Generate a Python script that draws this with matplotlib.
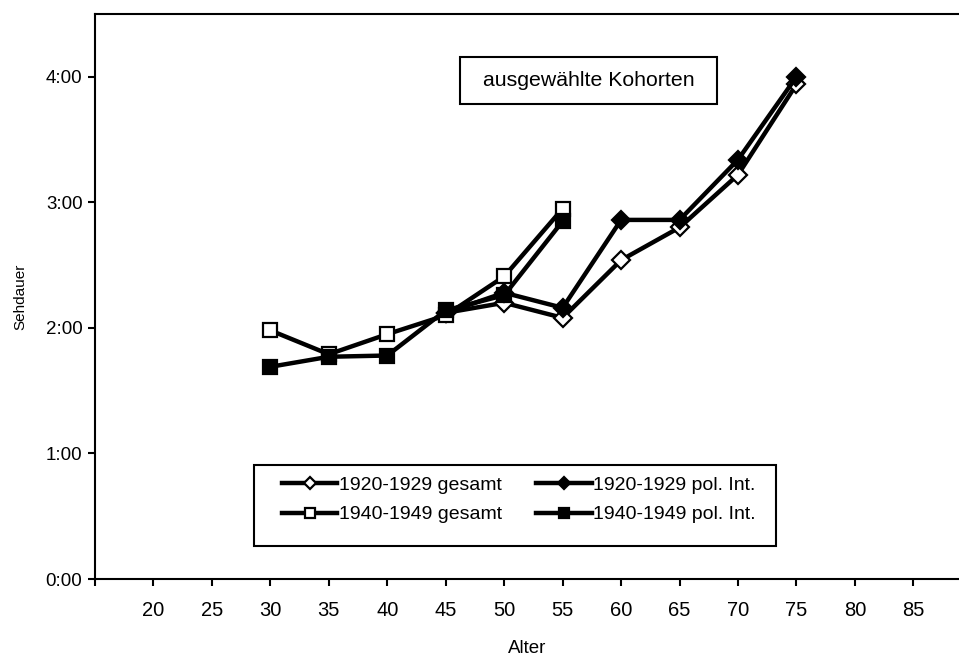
import matplotlib
matplotlib.use("Agg")
import matplotlib.pyplot as plt
from matplotlib.ticker import FuncFormatter
from matplotlib.patches import Rectangle

plt.rcParams['font.family'] = ['Liberation Sans', 'DejaVu Sans']

# Data (hours)
ages_1920 = [45, 50, 55, 60, 65, 70, 75]
gesamt_1920 = [2.12, 2.20, 2.08, 2.54, 2.80, 3.22, 3.94]
pol_1920 = [2.12, 2.28, 2.16, 2.86, 2.86, 3.34, 4.00]

ages_1940 = [30, 35, 40, 45, 50, 55]
gesamt_1940 = [1.98, 1.79, 1.95, 2.10, 2.41, 2.95]
pol_1940 = [1.69, 1.77, 1.78, 2.14, 2.26, 2.85]

x_ticks = [15, 20, 25, 30, 35, 40, 45, 50, 55, 60, 65, 70, 75, 80, 85]
y_ticks = [0, 1, 2, 3, 4]

labels = ["1920-1929 gesamt", "1920-1929 pol. Int.",
          "1940-1949 gesamt", "1940-1949 pol. Int."]

W, H = 959, 655
fig = plt.figure(figsize=(W / 100, H / 100), dpi=100)
ax = fig.add_axes([95 / W, (H - 579) / H, 1 - 95 / W, (579 - 14) / H])

lw = 3.2
ms = 10.5
h1, = ax.plot(ages_1920, gesamt_1920, color='black', lw=lw, marker='D',
              ms=ms * 0.85, mfc='white', mec='black', mew=1.6, zorder=3)
h2, = ax.plot(ages_1920, pol_1920, color='black', lw=lw, marker='D',
              ms=ms * 0.85, mfc='black', mec='black', mew=1.6, zorder=4)
h3, = ax.plot(ages_1940, gesamt_1940, color='black', lw=lw, marker='s',
              ms=ms, mfc='white', mec='black', mew=1.6, zorder=5)
h4, = ax.plot(ages_1940, pol_1940, color='black', lw=lw, marker='s',
              ms=ms, mfc='black', mec='black', mew=1.6, zorder=6)

ax.set_xlim(15, 88.9)
ax.set_ylim(0, 4.5)
ax.set_xticks(x_ticks)
ax.set_xticklabels(['' if t == 15 else str(t) for t in x_ticks], fontsize=14.5)
ax.set_yticks(y_ticks)
ax.yaxis.set_major_formatter(FuncFormatter(lambda v, p: f"{int(v)}:{int(round((v % 1) * 60)):02d}"))

ax.spines['right'].set_visible(False)
for s in ['left', 'bottom', 'top']:
    ax.spines[s].set_linewidth(1.5)
ax.tick_params(axis='both', direction='out', length=5, width=1.5)
ax.tick_params(axis='y', labelsize=13.5, pad=4)
ax.tick_params(axis='x', pad=11)

ax.set_xlabel("Alter", fontsize=13.5, labelpad=14)
ax.set_ylabel("Sehdauer", fontsize=11, labelpad=13)

# Title box
fig.patches.append(Rectangle((460 / W, 1 - 104 / H), (717 - 460) / W, (104 - 57) / H,
                             transform=fig.transFigure, fc='white', ec='black', lw=1.5, zorder=5))
fig.text((460 + 717) / 2 / W, 1 - 81 / H, "ausgewählte Kohorten", fontsize=15.3,
         ha='center', va='center', zorder=6)

# Legend
fig.patches.append(Rectangle((254 / W, 1 - 546 / H), (776 - 254) / W, (546 - 465) / H,
                             transform=fig.transFigure, fc='white', ec='black', lw=1.5, zorder=5))
leg = fig.legend([h1, h3, h2, h4], [labels[0], labels[2], labels[1], labels[3]], ncol=2,
                 loc='upper left', bbox_to_anchor=(282 / W, 1 - 476 / H), fontsize=14,
                 frameon=False, markerscale=0.7, handlelength=2.85, columnspacing=1.75,
                 handletextpad=0.08, borderpad=0.0, borderaxespad=0.0, labelspacing=0.63)
leg.set_zorder(7)

fig.savefig("out.png", dpi=100)
